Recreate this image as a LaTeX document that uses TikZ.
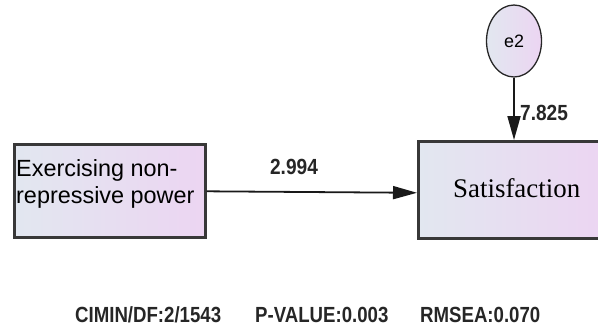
\documentclass[tikz,border=0pt]{standalone}
\usepackage{fontspec}
\usepackage{graphicx}
\setmainfont{Liberation Serif}
\setsansfont{Liberation Sans}
\usetikzlibrary{arrows.meta,shapes.geometric}
\definecolor{leftc}{RGB}{226,231,240}
\definecolor{rightc}{RGB}{236,213,242}
\newcommand{\narr}[2]{\scalebox{#1}[1]{#2}}
\begin{document}
\begin{tikzpicture}[x=1bp,y=-1bp,
  obsbox/.style={draw=black!78, line width=2.6pt, left color=leftc, right color=rightc, inner sep=0pt},
  latent/.style={draw=black!85, line width=1.3pt, ellipse, left color=leftc, right color=rightc, inner sep=0pt},
  path/.style={draw=black!90, line width=1.8pt, -{Triangle[length=24bp,width=13bp]}},
  lbl/.style={font=\sffamily\bfseries\fontsize{22}{24}\selectfont, inner sep=0pt, text=black!85}]
\useasboundingbox (0,0) rectangle (598,331);
\node[obsbox, minimum width=191bp, minimum height=93bp, anchor=north west] (ex) at (13,143) {};
\node[font=\sffamily\fontsize{23.5}{27}\selectfont, align=left, anchor=north west, inner sep=0pt] (extext) at (16,159) {Exercising non-\\repressive power};
\node[obsbox, minimum width=185bp, minimum height=97bp, anchor=north west] (sat) at (417,140) {};
\node[font=\fontsize{27}{30}\selectfont, inner sep=0pt, anchor=west] (sattext) at (453,188) {Satisfaction};
\node[latent, minimum width=55bp, minimum height=72bp] (e2) at (514,41) {\sffamily\fontsize{18}{20}\selectfont e2};
\draw[path] ([yshift=-0.5bp]ex.east) -- ([yshift=-3bp]sat.west);
\draw[path] (e2.south) -- (e2.south |- sat.north);
\node[lbl] (l1) at (294,166.5) {\narr{0.87}{2.994}};
\node[lbl, anchor=west] (l2) at (520,112.5) {\narr{0.87}{7.825}};
\node[lbl, anchor=west] (f1) at (75,315) {\narr{0.85}{CIMIN/DF:2/1543}};
\node[lbl, anchor=west] (f2) at (255,315) {\narr{0.85}{P-VALUE:0.003}};
\node[lbl, anchor=west] (f3) at (420,315) {\narr{0.85}{RMSEA:0.070}};
\end{tikzpicture}
\end{document}
